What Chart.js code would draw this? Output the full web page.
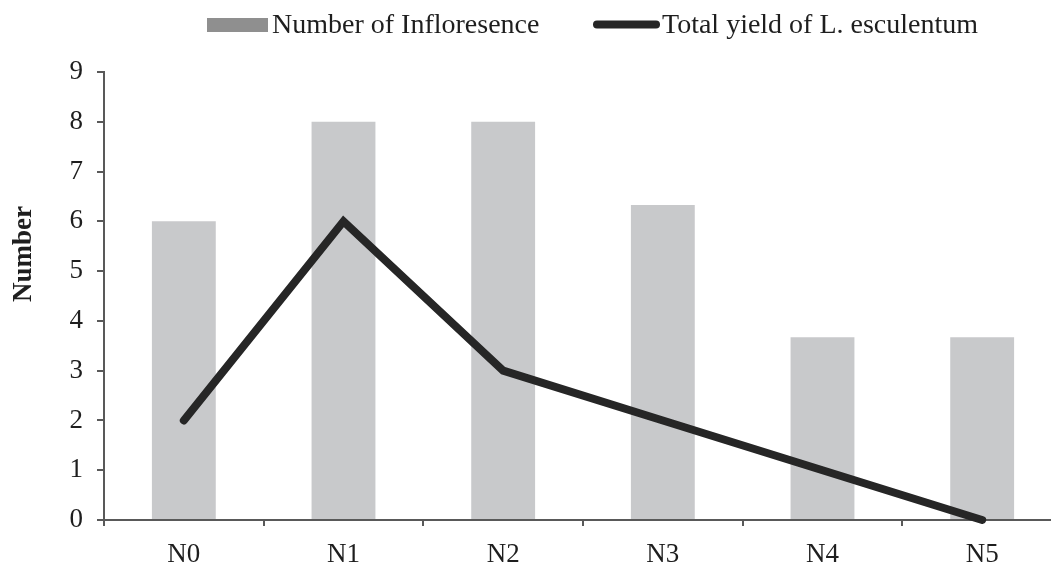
<!DOCTYPE html>
<html>
<head>
<meta charset="utf-8">
<script src="https://cdn.jsdelivr.net/npm/chart.js@4/dist/chart.umd.min.js"></script>
<style>
  html, body { margin: 0; padding: 0; background: #ffffff; overflow: hidden; }
  #wrap { width: 1062px; height: 563px; }
  canvas { display: block; }
</style>
</head>
<body>
<div id="wrap"><canvas id="c" width="1062" height="563"></canvas></div>
<script>
// ---- data ----
const categories = ["N0", "N1", "N2", "N3", "N4", "N5"];
const inflorescence = [6, 8, 8, 6.33, 3.67, 3.67];
const totalYield = [2, 6, 3, 2, 1, 0];
const seriesNames = ["Number of Infloresence", "Total yield of L. esculentum"];
const yTicks = [0, 1, 2, 3, 4, 5, 6, 7, 8, 9];
const yTitle = "Number";

// ---- styles ----
const BAR_COLOR = "#c8c9cb";
const BAR_LEGEND_COLOR = "#8f8f8f";
const LINE_COLOR = "#262626";
const AXIS_COLOR = "#595959";
const TEXT_COLOR = "#1e1e1e";
const SERIF = "'Liberation Serif', 'Times New Roman', serif";

const customDecor = {
  id: "customDecor",
  afterDraw(chart) {
    const ctx = chart.ctx;
    ctx.save();
    // legend
    ctx.font = "28px " + SERIF;
    ctx.textBaseline = "alphabetic";
    ctx.textAlign = "left";
    ctx.fillStyle = BAR_LEGEND_COLOR;
    ctx.fillRect(207, 18, 61, 14);
    ctx.fillStyle = TEXT_COLOR;
    ctx.fillText(chart.data.datasets[0].label, 272, 33);
    ctx.strokeStyle = LINE_COLOR;
    ctx.lineWidth = 8;
    ctx.lineCap = "round";
    ctx.beginPath();
    ctx.moveTo(597, 24.5);
    ctx.lineTo(656, 24.5);
    ctx.stroke();
    ctx.fillText(chart.data.datasets[1].label, 662, 33);
    // y-axis title
    ctx.translate(24, 254);
    ctx.rotate(-Math.PI / 2);
    ctx.font = "bold 27px " + SERIF;
    ctx.textAlign = "center";
    ctx.textBaseline = "middle";
    ctx.fillText(yTitle, 0, 0);
    ctx.restore();
  }
};

new Chart(document.getElementById("c"), {
  type: "bar",
  data: {
    labels: categories,
    datasets: [
      {
        type: "bar",
        label: seriesNames[0],
        data: inflorescence,
        backgroundColor: BAR_COLOR,
        borderWidth: 0,
        categoryPercentage: 1.0,
        barPercentage: 0.4,
        order: 2
      },
      {
        type: "line",
        label: seriesNames[1],
        data: totalYield,
        borderColor: LINE_COLOR,
        backgroundColor: LINE_COLOR,
        borderWidth: 8,
        borderCapStyle: "round",
        borderJoinStyle: "miter",
        pointRadius: 0,
        pointHoverRadius: 0,
        tension: 0,
        fill: false,
        clip: false,
        order: 1
      }
    ]
  },
  options: {
    responsive: false,
    animation: false,
    devicePixelRatio: 1,
    layout: { padding: { top: 72, left: 0, right: 0, bottom: 0 } },
    plugins: {
      legend: { display: false },
      tooltip: { enabled: false },
      title: { display: false }
    },
    scales: {
      x: {
        type: "category",
        offset: true,
        grid: {
          offset: true,
          drawOnChartArea: false,
          drawTicks: true,
          tickLength: 6,
          color: AXIS_COLOR,
          lineWidth: 2
        },
        border: { display: true, color: AXIS_COLOR, width: 2 },
        ticks: {
          color: TEXT_COLOR,
          padding: 13,
          font: { family: SERIF, size: 27 }
        },
        afterFit(scale) { scale.height = 43; }
      },
      y: {
        min: 0,
        max: 9,
        afterBuildTicks(scale) { scale.ticks = yTicks.map(v => ({ value: v })); },
        grid: {
          drawOnChartArea: false,
          drawTicks: true,
          tickLength: 7,
          color: AXIS_COLOR,
          lineWidth: 2
        },
        border: { display: true, color: AXIS_COLOR, width: 2 },
        ticks: {
          color: TEXT_COLOR,
          padding: 14,
          font: { family: SERIF, size: 27 }
        },
        afterFit(scale) { scale.width = 104; }
      }
    }
  },
  plugins: [customDecor]
});
</script>
</body>
</html>
